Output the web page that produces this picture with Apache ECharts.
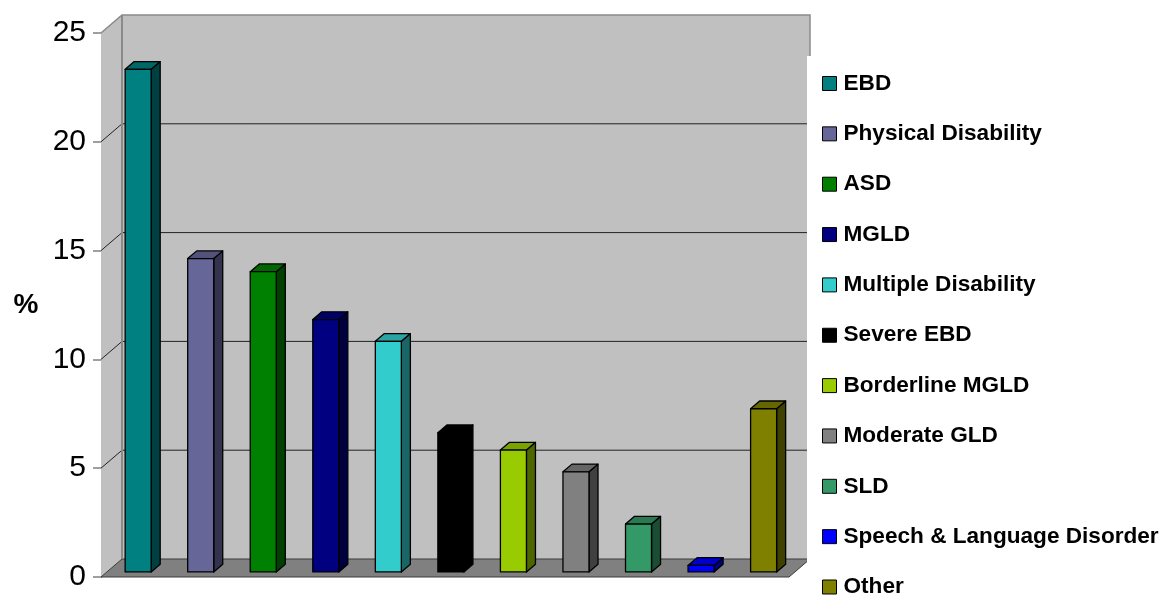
<!DOCTYPE html>
<html>
<head>
<meta charset="utf-8">
<title>Pupils by category of need (%)</title>
<script src="https://cdn.jsdelivr.net/npm/echarts@6/dist/echarts.min.js"></script>
<style>
  html, body { margin: 0; padding: 0; background: #fff; }
  #chart { width: 1163px; height: 596px; }
</style>
</head>
<body>
<div id="chart"></div>
<script>
// Categories of need and their share (%)
const categories = [
  'EBD', 'Physical Disability', 'ASD', 'MGLD', 'Multiple Disability',
  'Severe EBD', 'Borderline MGLD', 'Moderate GLD', 'SLD',
  'Speech & Language Disorder', 'Other'
];
const values = [23.1, 14.4, 13.8, 11.6, 10.6, 6.4, 5.6, 4.6, 2.2, 0.3, 7.5];
const colors = [
  '#008080', '#666699', '#008000', '#000080', '#33CCCC',
  '#000000', '#99CC00', '#808080', '#339966', '#0000FF', '#808000'
];
const yTicks = [0, 5, 10, 15, 20, 25];

// 3-D look: wall depth in pixels and bar placement inside that depth
const DX = 21, DY = -18;
const BAR_FRONT = 0.28, BAR_DEPTH = 0.43, BAR_WIDTH = 0.416;

function shade(hex, k) {
  const n = parseInt(hex.slice(1), 16);
  const r = Math.round(((n >> 16) & 255) * k);
  const g = Math.round(((n >> 8) & 255) * k);
  const b = Math.round((n & 255) * k);
  return 'rgb(' + r + ',' + g + ',' + b + ')';
}

// Walls, floor and gridlines of the 3-D plot box
function renderFrame(params, api) {
  const cs = params.coordSys;
  const x0 = cs.x, x1 = cs.x + cs.width;
  const yb = api.coord([0, yTicks[0]])[1];
  const yt = api.coord([0, yTicks[yTicks.length - 1]])[1];
  const children = [
    { type: 'polygon', shape: { points: [[x0, yt], [x0 + DX, yt + DY], [x0 + DX, yb + DY], [x0, yb]] },
      style: { fill: '#c0c0c0' } },
    { type: 'rect', shape: { x: x0 + DX, y: yt + DY, width: cs.width, height: yb - yt },
      style: { fill: '#c0c0c0' } },
    { type: 'polygon', shape: { points: [[x0, yb], [x0 + DX, yb + DY], [x1 + DX, yb + DY], [x1, yb]] },
      style: { fill: '#808080', stroke: '#3a3a3a', lineWidth: 1 } }
  ];
  yTicks.slice(1, -1).forEach(function (t) {
    const y = api.coord([0, t])[1];
    children.push({ type: 'line', shape: { x1: x0 + DX, y1: y + DY, x2: x1 + DX, y2: y + DY },
      style: { stroke: '#222', lineWidth: 1 } });
    children.push({ type: 'line', shape: { x1: x0, y1: y, x2: x0 + DX, y2: y + DY },
      style: { stroke: '#222', lineWidth: 1 } });
  });
  // wall edges
  children.push({ type: 'polyline', shape: { points: [[x0, yt], [x0 + DX, yt + DY], [x1 + DX, yt + DY], [x1 + DX, yb + DY]] },
    style: { stroke: '#8a8a8a', lineWidth: 1.5, fill: null } });
  children.push({ type: 'line', shape: { x1: x0 + DX, y1: yt + DY, x2: x0 + DX, y2: yb + DY },
    style: { stroke: '#8a8a8a', lineWidth: 2 } });
  return { type: 'group', children: children };
}

// One 3-D column: front face, side face and top face
function renderBar(params, api) {
  const i = api.value(0);
  const c0 = api.coord([i, 0]);
  const c1 = api.coord([i, api.value(1)]);
  const bw = api.size([1, 0])[0] * BAR_WIDTH;
  const fx = c0[0] + BAR_FRONT * DX - bw / 2;
  const base = c0[1] + BAR_FRONT * DY;
  const top = c1[1] + BAR_FRONT * DY;
  const ddx = BAR_DEPTH * DX, ddy = BAR_DEPTH * DY;
  const col = api.visual('color');
  const edge = { stroke: '#000', lineWidth: 1.3, lineJoin: 'round' };
  return {
    type: 'group',
    children: [
      { type: 'polygon', shape: { points: [[fx + bw, top], [fx + bw + ddx, top + ddy], [fx + bw + ddx, base + ddy], [fx + bw, base]] },
        style: Object.assign({ fill: shade(col, 0.5) }, edge) },
      { type: 'polygon', shape: { points: [[fx, top], [fx + ddx, top + ddy], [fx + bw + ddx, top + ddy], [fx + bw, top]] },
        style: Object.assign({ fill: shade(col, 0.8) }, edge) },
      { type: 'rect', shape: { x: fx, y: top, width: bw, height: base - top },
        style: Object.assign({ fill: col }, edge) }
    ]
  };
}

const series = [{
  type: 'custom',
  name: '__frame',
  silent: true,
  z: 1,
  renderItem: renderFrame,
  data: [[0, 0]]
}];
categories.forEach(function (name, i) {
  series.push({
    type: 'custom',
    name: name,
    z: 2,
    itemStyle: { color: colors[i] },
    renderItem: renderBar,
    encode: { x: 0, y: 1 },
    data: [[i, values[i]]]
  });
});

const chart = echarts.init(document.getElementById('chart'), null, { renderer: 'canvas' });
chart.setOption({
  animation: false,
  backgroundColor: '#ffffff',
  grid: { left: 101, right: 374, top: 33, bottom: 19, containLabel: false },
  xAxis: {
    type: 'category',
    data: categories,
    boundaryGap: true,
    axisLine: { show: false },
    axisTick: { show: false },
    axisLabel: { show: false },
    splitLine: { show: false }
  },
  yAxis: {
    type: 'value',
    min: 0, max: 25, interval: 5,
    name: '%',
    nameLocation: 'middle',
    nameRotate: 0,
    nameGap: 75,
    nameTextStyle: { fontSize: 28, fontWeight: 'bold', color: '#000', fontFamily: 'Liberation Sans, Arial, sans-serif', align: 'center', padding: [9, 0, 0, 0] },
    axisLine: { show: true, lineStyle: { color: '#000', width: 1 } },
    axisTick: { show: true, length: 8, lineStyle: { color: '#808080', width: 1.5 } },
    axisLabel: { fontSize: 30, color: '#000', margin: 15, fontFamily: 'Liberation Sans, Arial, sans-serif' },
    splitLine: { show: false }
  },
  legend: {
    data: categories,
    orient: 'vertical',
    left: 807,
    top: 56,
    height: 580,
    padding: [16, 4, 0, 15],
    backgroundColor: '#ffffff',
    itemWidth: 14,
    itemHeight: 14,
    itemGap: 27.35,
    icon: 'rect',
    selectedMode: false,
    itemStyle: { borderColor: '#000', borderWidth: 1 },
    textStyle: { fontSize: 22.6, fontWeight: 'bold', color: '#000', lineHeight: 22,
      fontFamily: 'Liberation Sans, Arial, sans-serif', padding: [0, 0, 0, 2] }
  },
  series: series
});
</script>
</body>
</html>
